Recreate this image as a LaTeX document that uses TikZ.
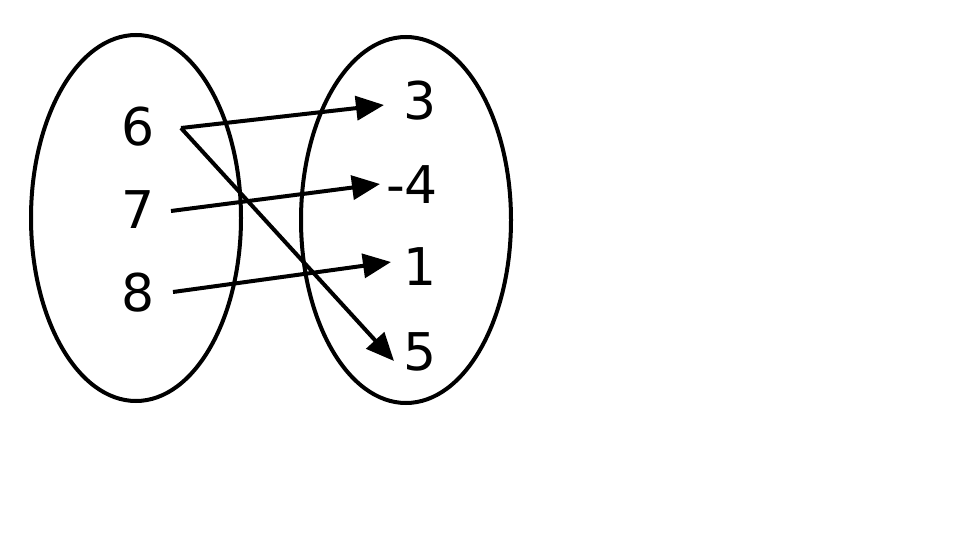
\documentclass[tikz,border=0pt]{standalone}
\usepackage{fontspec}
\setmainfont{DejaVu Sans}
\usetikzlibrary{arrows.meta}
\begin{document}
\begin{tikzpicture}[x=1pt,y=-1pt,
  setline/.style={line width=4pt},
  lbl/.style={font=\fontsize{52}{52}\selectfont, inner sep=0pt},
  maparrow/.style={line width=4pt, -{Triangle[length=28pt,width=24pt]}}]
\useasboundingbox (0,0) rectangle (960,540);
\draw[setline] (136,218) ellipse [x radius=105, y radius=183];
\draw[setline] (406,220) ellipse [x radius=105, y radius=183];
\node[lbl] (n6) at (138,127) {6};
\node[lbl] (n7) at (138,210) {7};
\node[lbl] (n8) at (138,293) {8};
\node[lbl] (n3) at (420,101) {3};
\node[lbl] (n4) at (412,185) {-4};
\node[lbl] (n1) at (420,267) {1};
\node[lbl] (n5) at (420,352) {5};
\coordinate (s6) at (181,128);
\coordinate (s7) at (171,211);
\coordinate (s8) at (173,292);
\coordinate (e3) at (384,105);
\coordinate (e4) at (380,184);
\coordinate (e1) at (391,262);
\coordinate (e5) at (394,361);
\draw[maparrow] (s6) -- (e3);
\draw[maparrow] (s6) -- (e5);
\draw[maparrow] (s7) -- (e4);
\draw[maparrow] (s8) -- (e1);
\end{tikzpicture}
\end{document}
